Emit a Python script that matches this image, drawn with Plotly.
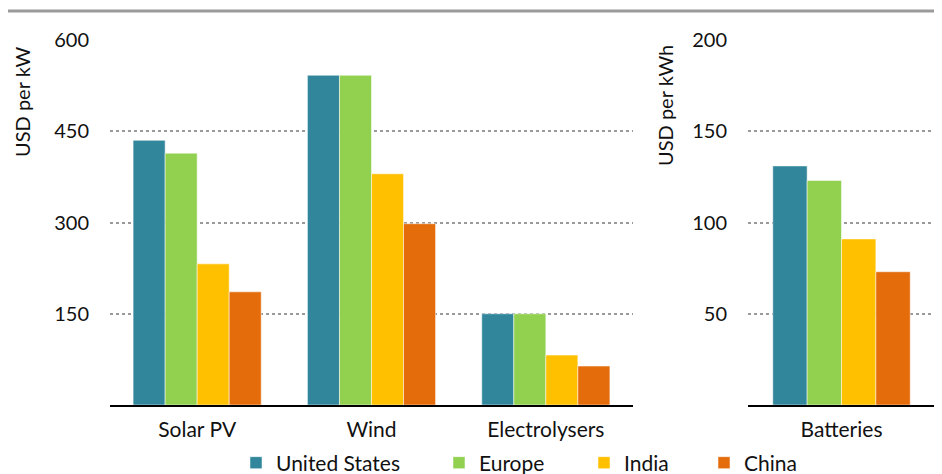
import plotly.graph_objects as go

# The page body has an 8px margin, so the figure is sized to the visible area
OFF = 8
W, H = 942 - OFF, 474 - OFF

categories = ["Solar PV", "Wind", "Electrolysers"]
categories_right = ["Batteries"]
regions = ["United States", "Europe", "India", "China"]
colors = ["#31869b", "#92d050", "#ffc000", "#e46c0a"]

us_kw = [435, 542, 150]
eu_kw = [414, 542, 150]
in_kw = [232, 380, 82]
cn_kw = [186, 298, 64]

us_kwh = [131]
eu_kwh = [123]
in_kwh = [91]
cn_kwh = [73]

left_vals = [us_kw, eu_kw, in_kw, cn_kw]
right_vals = [us_kwh, eu_kwh, in_kwh, cn_kwh]

left_ticks = [150, 300, 450, 600]
right_ticks = [50, 100, 150, 200]

FONT = "Lato, 'Open Sans', sans-serif"

def px_x(p):
    return (p - OFF) / W

def px_y(p):
    return 1 - (p - OFF) / H

fig = go.Figure()
legend_names = ["legend", "legend2", "legend3", "legend4"]
for i, (name, col) in enumerate(zip(regions, colors)):
    fig.add_trace(go.Bar(
        x=categories, y=left_vals[i], name=name,
        marker=dict(color=col, line=dict(color="rgba(255,255,255,0.5)", width=1)),
        xaxis="x", yaxis="y", legend=legend_names[i], showlegend=True,
        hoverinfo="x+y+name",
    ))
for i, (name, col) in enumerate(zip(regions, colors)):
    fig.add_trace(go.Bar(
        x=categories_right, y=right_vals[i], name=name,
        marker=dict(color=col, line=dict(color="rgba(255,255,255,0.5)", width=1)),
        xaxis="x2", yaxis="y2", showlegend=False,
    ))

ydom = [px_y(405), px_y(40)]
grid = dict(showgrid=True, gridcolor="#9a9a9a", griddash="dot", gridwidth=2,
            zeroline=False, showline=False, ticks="", ticklabelstandoff=20,
            tickfont=dict(family=FONT, size=20, color="#111111"))
axis_x = dict(showline=True, linecolor="#000000", linewidth=1.5, ticks="",
              tickfont=dict(family=FONT, size=21, color="#111111"),
              ticklabelstandoff=5, showgrid=False)

legend_x = [236, 439, 584, 704]
legends = {}
for i, ln in enumerate(legend_names):
    legends[ln] = dict(
        x=px_x(legend_x[i]), xanchor="left", y=px_y(463), yanchor="middle",
        orientation="h", bgcolor="rgba(0,0,0,0)", borderwidth=0,
        font=dict(family=FONT, size=21, color="#111111"),
        itemclick=False, itemdoubleclick=False,
    )

fig.update_layout(
    width=W, height=H,
    margin=dict(l=0, r=0, t=0, b=0, autoexpand=False),
    paper_bgcolor="white", plot_bgcolor="white",
    barmode="group", bargap=0.265, bargroupgap=0,
    xaxis=dict(domain=[px_x(110), px_x(633)], anchor="y", **axis_x),
    yaxis=dict(domain=ydom, range=[0, 600], tickvals=left_ticks, anchor="x", **grid),
    xaxis2=dict(domain=[px_x(748), px_x(935)], anchor="y2", **axis_x),
    yaxis2=dict(domain=ydom, range=[0, 200], tickvals=right_ticks, anchor="x2", **grid),
    **legends,
    shapes=[dict(type="line", xref="paper", yref="paper",
                 x0=0, x1=1, y0=px_y(11), y1=px_y(11),
                 line=dict(color="#9a9a9a", width=3))],
    annotations=[
        dict(text="USD per kW", textangle=-90, xref="paper", yref="paper",
             x=px_x(22), y=px_y(102), xanchor="center", yanchor="middle",
             showarrow=False, font=dict(family=FONT, size=20, color="#111111")),
        dict(text="USD per kWh", textangle=-90, xref="paper", yref="paper",
             x=px_x(665), y=px_y(106), xanchor="center", yanchor="middle",
             showarrow=False, font=dict(family=FONT, size=20, color="#111111")),
    ],
)

fig.write_html("out.html")
